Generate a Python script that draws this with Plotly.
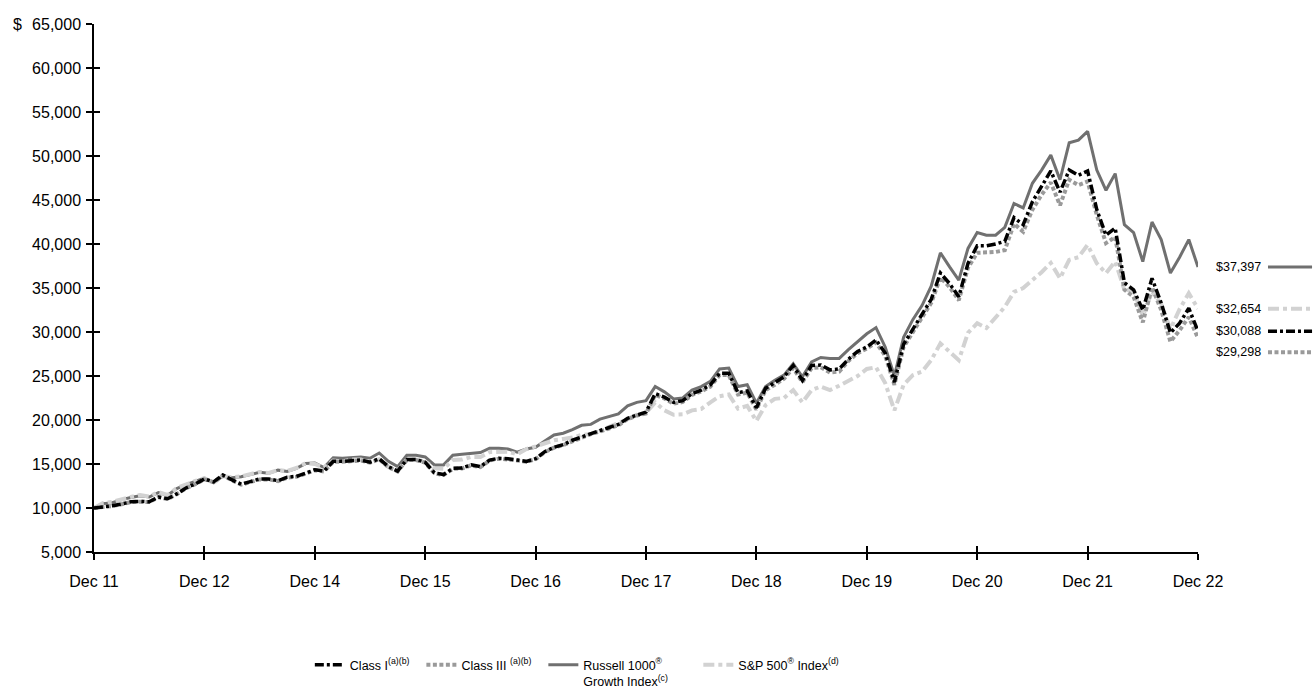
import plotly.graph_objects as go

# ---------------- data (monthly growth of $10,000) ----------------
months = list(range(121))
tick_pos = [0, 12, 24, 36, 48, 60, 72, 84, 96, 108, 120]
tick_text = ["Dec 11", "Dec 12", "Dec 14", "Dec 15", "Dec 16", "Dec 17",
             "Dec 18", "Dec 19", "Dec 20", "Dec 21", "Dec 22"]
y_ticks = [5000, 10000, 15000, 20000, 25000, 30000, 35000, 40000, 45000,
           50000, 55000, 60000, 65000]

russell = [10000, 10500, 10600, 10950, 11200, 11400, 11250, 11750, 11450, 12200, 12650, 13000, 13400,
           12900, 13600, 13450, 13550, 13800, 14050, 13950, 14300, 14150, 14500, 15050, 15100,
           14600, 15700, 15650, 15750, 15800, 15650, 16250, 15300, 14700, 16000, 16000, 15800,
           14900, 14900, 16000, 16100, 16200, 16300, 16800, 16800, 16700, 16350, 16700, 16900,
           17600, 18300, 18500, 18900, 19400, 19500, 20100, 20400, 20700, 21600, 22000, 22200,
           23800, 23200, 22400, 22500, 23400, 23800, 24400, 25800, 25900, 23800, 24000, 21900,
           23800, 24500, 25100, 26400, 24900, 26600, 27100, 27000, 27000, 28000, 28900, 29800,
           30500, 28300, 25000, 29400, 31400, 33000, 35200, 39000, 37400, 35900, 39500, 41300,
           41000, 41000, 41900, 44600, 44100, 46900, 48400, 50100, 47300, 51500, 51800, 52800,
           48400, 46100, 48000, 42200, 41300, 38000, 42500, 40500, 36700, 38500, 40500, 37397]

sp500 = [10000, 10570, 10700, 11000, 11250, 11480, 11300, 11820, 11480, 12270, 12730, 13070, 13400,
         12840, 13640, 13500, 13600, 13860, 14100, 13980, 14320, 14200, 14550, 15100, 15000,
         14600, 15400, 15300, 15500, 15500, 15250, 15550, 14650, 14250, 15500, 15500, 15300,
         14500, 14450, 15450, 15500, 15800, 15800, 16350, 16400, 16400, 16100, 16700, 17000,
         17300, 17700, 17850, 18000, 18300, 18400, 18800, 19200, 19600, 20100, 20600, 20800,
         22000, 21100, 20600, 20650, 21100, 21250, 22000, 22700, 22900, 21300, 21600, 19900,
         21700, 22400, 22500, 23400, 22000, 23400, 23800, 23400, 23900, 24400, 25000, 25800,
         26000, 24200, 21100, 24000, 25100, 25500, 26800, 28700, 27700, 26800, 29900, 31000,
         30450, 31700, 32850, 34550, 35000, 35900, 36800, 37850, 36100, 38200, 38500, 39900,
         37800, 36700, 38000, 34800, 34700, 31800, 34600, 33200, 30300, 32600, 34400, 32654]

class_i = [10000, 10100, 10250, 10450, 10700, 10750, 10700, 11250, 11050, 11600, 12270, 12730, 13300,
           12970, 13750, 13200, 12700, 13000, 13300, 13300, 13100, 13500, 13600, 13950, 14350,
           14200, 15300, 15300, 15400, 15450, 15200, 15600, 14700, 14200, 15500, 15500, 15200,
           14000, 13800, 14500, 14550, 14900, 14700, 15450, 15650, 15600, 15450, 15300, 15600,
           16400, 16900, 17200, 17700, 18100, 18500, 18800, 19150, 19500, 20200, 20600, 20900,
           23000, 22600, 22000, 22200, 23000, 23400, 24000, 25300, 25300, 23100, 23300, 21400,
           23600, 24200, 24900, 26200, 24500, 26200, 26250, 25700, 25800, 26900, 27800, 28300,
           29100, 27600, 24300, 28600, 30300, 32000, 33700, 36700, 35500, 34000, 37800, 39800,
           39800, 40000, 40300, 43000, 42200, 44800, 46500, 48300, 45900, 48400, 47800, 48300,
           43900, 41000, 41800, 35600, 34800, 32500, 36100, 33300, 29900, 31000, 32700, 30088]

class_iii = [10000, 10080, 10230, 10420, 10680, 10720, 10670, 11220, 11020, 11570, 12240, 12700, 13260,
             12930, 13700, 13150, 12650, 12950, 13250, 13250, 13050, 13450, 13550, 13900, 14300,
             14150, 15250, 15250, 15350, 15400, 15150, 15550, 14650, 14150, 15450, 15450, 15150,
             13950, 13750, 14450, 14500, 14850, 14650, 15400, 15600, 15550, 15400, 15250, 15550,
             16350, 16850, 17150, 17600, 18000, 18400, 18700, 19050, 19400, 20100, 20500, 20750,
             22850, 22450, 21850, 22050, 22850, 23250, 23800, 25100, 25100, 22900, 23100, 21200,
             23400, 24000, 24700, 25900, 24300, 25900, 26000, 25400, 25500, 26700, 27600, 28100,
             28800, 27300, 24000, 28300, 30000, 31600, 33300, 36200, 35100, 33600, 37300, 39000,
             39000, 39100, 39300, 42300, 41400, 43900, 45600, 47000, 44400, 47300, 46700, 47100,
             43300, 40100, 40800, 34800, 34000, 31100, 35100, 32500, 28900, 30200, 31700, 29298]

end_labels = ["$37,397", "$32,654", "$30,088", "$29,298"]

# ---------------- styling ----------------
FONT = "Liberation Sans, Arial, sans-serif"
C_RUS = "#707070"
C_SP = "#d2d2d2"
C_C3 = "#9a9a9a"
C_C1 = "#000000"
D_C1 = "9px,3px,3px,3px"
D_SP = "11px,4px,4px,4px"
D_C3 = "4px,2.5px"
NB = "\u00a0"

fig = go.Figure()
fig.add_trace(go.Scatter(x=months, y=russell, mode="lines",
                         name="Russell 1000<sup>®</sup>" + NB * 9 + "<br>Growth Index<sup>(c)</sup>",
                         line=dict(color=C_RUS, width=3), legendrank=3))
fig.add_trace(go.Scatter(x=months, y=sp500, mode="lines",
                         name="S&P 500<sup>®</sup> Index<sup>(d)</sup>",
                         line=dict(color=C_SP, width=4, dash=D_SP), legendrank=4))
fig.add_trace(go.Scatter(x=months, y=class_iii, mode="lines",
                         name="Class III <sup>(a)(b)</sup>" + NB * 2,
                         line=dict(color=C_C3, width=4, dash=D_C3), legendrank=2))
fig.add_trace(go.Scatter(x=months, y=class_i, mode="lines",
                         name="Class I<sup>(a)(b)</sup>" + NB * 2,
                         line=dict(color=C_C1, width=3.5, dash=D_C1), legendrank=1))
# helper trace so the overlay axes (inner tick halves) are drawn
fig.add_trace(go.Scatter(x=[months[0]], y=[russell[0]], xaxis="x2", yaxis="y2",
                         mode="lines", showlegend=False, hoverinfo="skip",
                         line=dict(width=0)))

axis_common = dict(showgrid=False, zeroline=False, ticks="outside", ticklen=6,
                   tickwidth=1.5, tickcolor="black", linecolor="black", linewidth=1.5,
                   tickfont=dict(family=FONT, size=16, color="black"))

fig.update_layout(
    width=1316, height=699,
    margin=dict(l=94, r=118, t=24, b=147, autoexpand=False),
    paper_bgcolor="white", plot_bgcolor="white",
    font=dict(family=FONT, size=13, color="black"),
    showlegend=True,
    legend=dict(orientation="h", x=0.1955, xanchor="left", y=-0.186, yanchor="top",
                font=dict(family=FONT, size=12.5, color="black"), valign="top",
                itemwidth=30, traceorder="normal"),
    xaxis=dict(range=[0, 120], tickmode="array", tickvals=tick_pos, ticktext=tick_text,
               showline=True, ticklabelstandoff=8, **axis_common),
    yaxis=dict(range=[5000, 65000], tickmode="array", tickvals=y_ticks,
               tickformat=",d", showline=True, ticklabelstandoff=2, **axis_common),
    xaxis2=dict(range=[0, 120], overlaying="x", anchor="y", side="bottom",
                tickmode="array", tickvals=tick_pos, ticks="inside", ticklen=6,
                tickwidth=1.5, tickcolor="black", showticklabels=False, showline=False,
                showgrid=False, zeroline=False),
    yaxis2=dict(range=[5000, 65000], overlaying="y", anchor="x", side="left",
                tickmode="array", tickvals=y_ticks, ticks="inside", ticklen=6,
                tickwidth=1.5, tickcolor="black", showticklabels=False, showline=False,
                showgrid=False, zeroline=False),
    hovermode=False,
)

# "$" at top of the value axis
fig.add_annotation(x=-0.075, xref="paper", y=y_ticks[-1], yref="y", text="$",
                   showarrow=False, xanchor="left", yanchor="middle",
                   font=dict(family=FONT, size=16, color="black"))

# end-value labels with small line samples
ends = [(end_labels[0], russell[-1], C_RUS, "solid", 3, 0),
        (end_labels[1], sp500[-1], C_SP, D_SP, 4, 0),
        (end_labels[2], class_i[-1], C_C1, D_C1, 3.5, 0),
        (end_labels[3], class_iii[-1], C_C3, D_C3, 4, -14)]
for txt, val, col, dash, w, shift in ends:
    fig.add_annotation(x=1.0589, xref="paper", y=val, yref="y", yshift=shift,
                       text=txt, showarrow=False, xanchor="right", yanchor="middle",
                       font=dict(family=FONT, size=12.5, color="black"))
    fig.add_shape(type="line", xref="paper", x0=1.0634, x1=1.1033,
                  yref="y", ysizemode="pixel", yanchor=val, y0=shift, y1=shift,
                  line=dict(color=col, width=w, dash=dash))

fig.write_html("out.html",
               config={"displayModeBar": False, "responsive": False},
               default_width="1316px", default_height="699px",
               post_script="document.body.style.margin='0';document.body.style.overflow='hidden';")
